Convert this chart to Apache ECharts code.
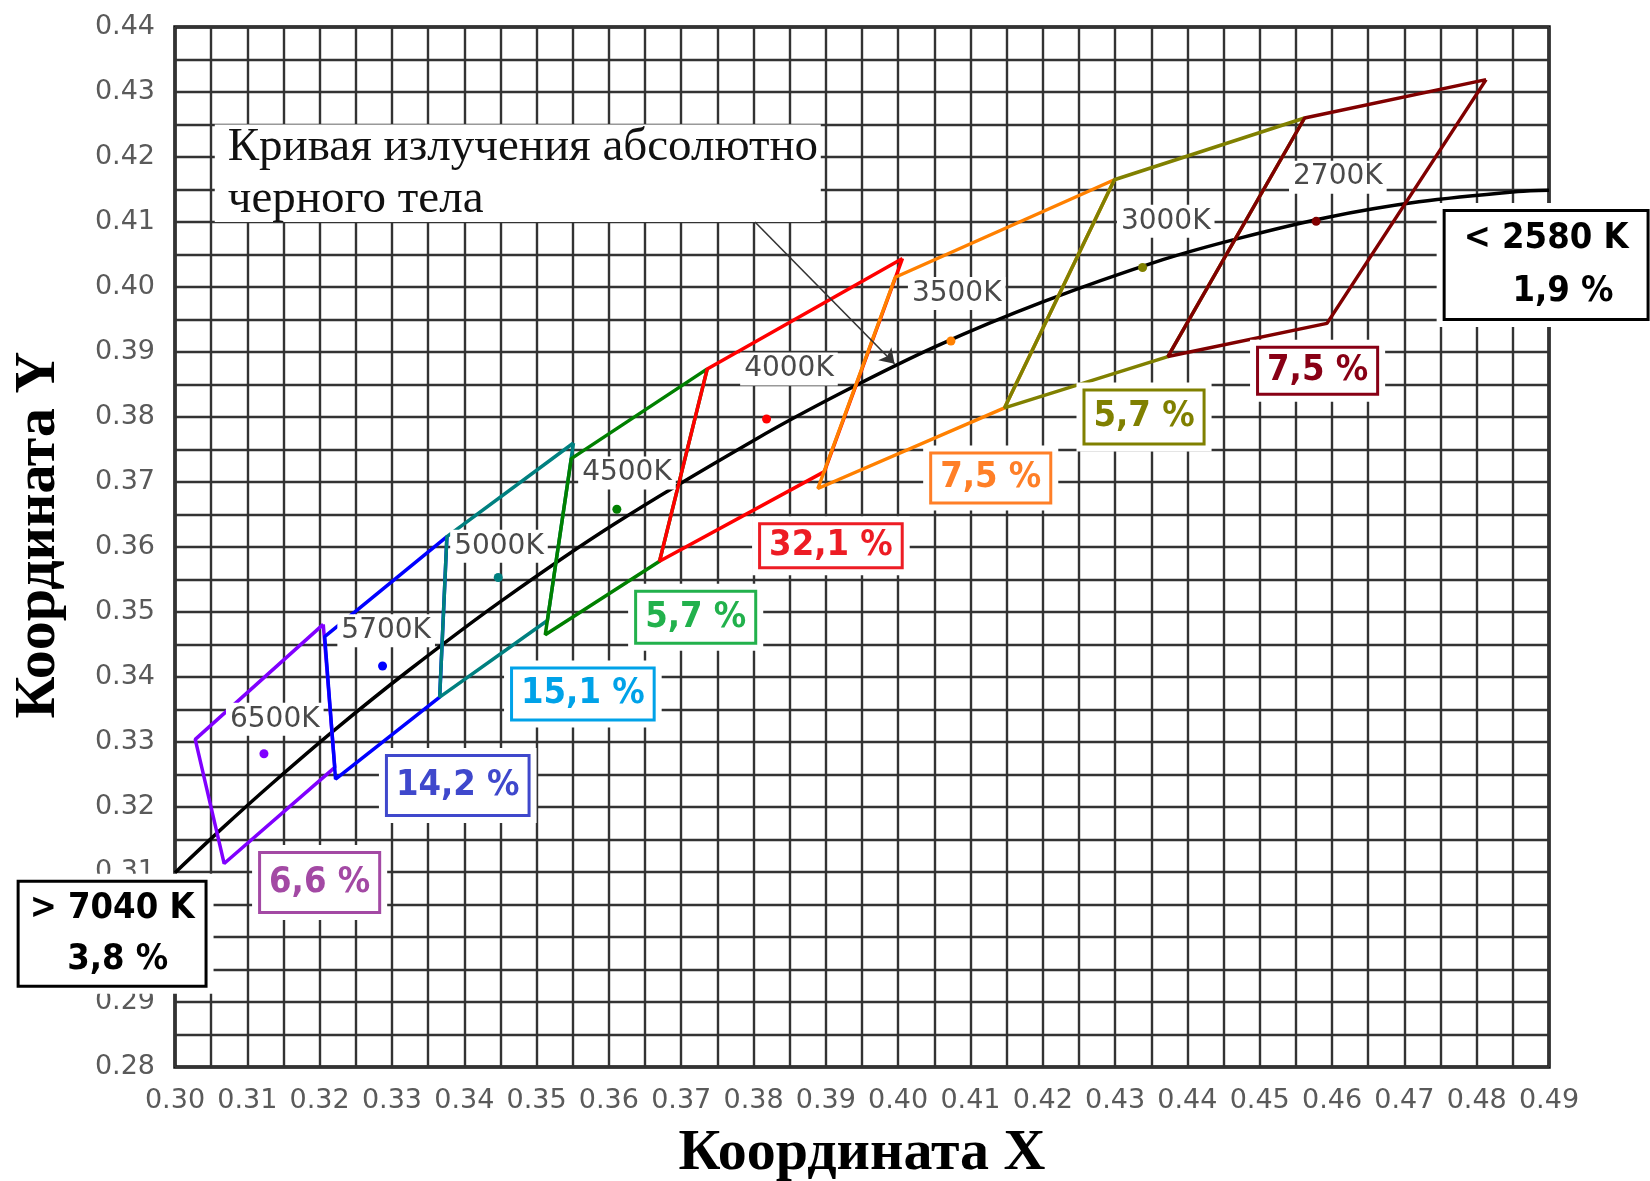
<!DOCTYPE html>
<html><head><meta charset="utf-8">
<script src="https://cdn.jsdelivr.net/npm/echarts@6/dist/echarts.min.js"></script>
<style>html,body{margin:0;padding:0;background:#fff}#c{width:1650px;height:1181px}</style>
</head><body><div id="c"></div>
<script>
// ---------- data ----------
const xRange = [0.30, 0.49];
const yRange = [0.28, 0.44];
const cctNames = ['6500K', '5700K', '5000K', '4500K', '4000K', '3500K', '3000K', '2700K'];
const centers = [
  [0.3123, 0.3282], [0.3287, 0.3417], [0.3447, 0.3553], [0.3611, 0.3658],
  [0.3818, 0.3797], [0.4073, 0.3917], [0.4338, 0.4030], [0.4578, 0.4101]
];
const quad6500 = [[0.3205, 0.3481], [0.3028, 0.3304], [0.3068, 0.3113], [0.3221, 0.3261]];
const quad5700 = [[0.3376, 0.3616], [0.3207, 0.3462], [0.3222, 0.3243], [0.3366, 0.3369]];
const quad5000 = [[0.3551, 0.3760], [0.3376, 0.3616], [0.3366, 0.3369], [0.3515, 0.3487]];
const quad4500 = [[0.3736, 0.3874], [0.3548, 0.3736], [0.3512, 0.3465], [0.3670, 0.3578]];
const quad4000 = [[0.4006, 0.4044], [0.3736, 0.3874], [0.3670, 0.3578], [0.3898, 0.3716]];
const quad3500 = [[0.4299, 0.4165], [0.3996, 0.4015], [0.3889, 0.3690], [0.4147, 0.3814]];
const quad3000 = [[0.4562, 0.4260], [0.4299, 0.4165], [0.4147, 0.3814], [0.4373, 0.3893]];
const quad2700 = [[0.4813, 0.4319], [0.4562, 0.4260], [0.4373, 0.3893], [0.4593, 0.3944]];
const quads = [quad6500, quad5700, quad5000, quad4500, quad4000, quad3500, quad3000, quad2700];
const shares = [6.6, 14.2, 15.1, 5.7, 32.1, 7.5, 5.7, 7.5];
const outsideNames = ['< 2580 K', '> 7040 K'];
const outsideShares = [1.9, 3.8];
const locusX = [0.3000, 0.3064, 0.3135, 0.3220, 0.3323, 0.3450, 0.3607, 0.3805, 0.3923, 0.4053, 0.4200, 0.4366, 0.4475, 0.4593, 0.4720, 0.4857, 0.4900];
const locusY = [0.3099, 0.3166, 0.3237, 0.3318, 0.3410, 0.3516, 0.3635, 0.3767, 0.3838, 0.3909, 0.3977, 0.4042, 0.4076, 0.4107, 0.4131, 0.4147, 0.4149];
const locusNote = 'Кривая излучения абсолютно\nчерного тела';

// ---------- layout (annotation anchors, data coords) ----------
const cctAnchors = [[0.3138, 0.3335], [0.3292, 0.3471], [0.3448, 0.3601], [0.3625, 0.3714], [0.3849, 0.3874], [0.4081, 0.3990], [0.4370, 0.4101], [0.4608, 0.4169]];
const shareAnchors = [[0.3200, 0.3084], [0.3391, 0.3233], [0.3564, 0.3374], [0.3720, 0.3492], [0.3907, 0.3602], [0.4128, 0.3706], [0.4340, 0.3800], [0.4580, 0.3871]];
const sharePadV = [[9, 8], [9, 8], [5, 4], [5, 4], [1, 0], [4, 3], [6, 5], [2, 2]];
const outsideAnchors = [[0.4896, 0.4034], [0.2913, 0.3005]];
const outsidePadH = [18, 10];
const noteArea = [[0.3055, 0.425], [0.3893, 0.41]];
const arrowCoords = [[0.3802, 0.4100], [0.3995, 0.3882]];

// ---------- styles ----------
const quadColors = ['#8000ff', '#0000ff', '#008080', '#008000', '#ff0000', '#ff8000', '#808000', '#800000'];
const shareColors = ['#a349a4', '#3f48cc', '#00a2e8', '#22b14c', '#ed1c24', '#ff7f27', '#808000', '#880015'];
const boxFont = "'DejaVu Sans Condensed', 'DejaVu Sans', sans-serif";
const gridLine = { color: '#333', width: 2.4 };
const fmt = v => v.toFixed(1).replace('.', ',');
const hidden = { color: 'rgba(0,0,0,0)', opacity: 1 };

const series = [];
// planckian locus
series.push({
  type: 'line', z: 3, symbol: 'none', smooth: 0.3, silent: true,
  data: locusX.map((x, i) => [x, locusY[i]]),
  lineStyle: { color: '#000', width: 3.5 },
  markArea: {
    silent: true,
    itemStyle: { color: '#fff', opacity: 1 },
    label: {
      show: true, position: 'insideLeft', distance: 13,
      fontFamily: "'Liberation Serif', 'Times New Roman', serif", fontSize: 47,
      color: '#111', lineHeight: 52, padding: [6, 0, 0, 0]
    },
    data: [[{ coord: noteArea[0], name: locusNote }, { coord: noteArea[1] }]]
  }
});
// quadrangles
quads.forEach((q, i) => {
  series.push({
    type: 'line', z: 4, symbol: 'none', silent: true,
    data: q.concat([q[0]]),
    lineStyle: { color: quadColors[i], width: 3.5 }
  });
});
// centre points
series.push({
  type: 'scatter', z: 5, symbolSize: 9, silent: true,
  data: centers.map((c, i) => ({ value: c, itemStyle: { color: quadColors[i], opacity: 1 } }))
});
// arrow
series.push({
  type: 'lines', coordinateSystem: 'cartesian2d', z: 6, silent: true,
  symbol: ['none', 'arrow'], symbolSize: 14,
  lineStyle: { color: '#333', width: 1.6, opacity: 1 },
  data: [{ coords: arrowCoords }]
});
const centred = { position: [0, 0], align: 'center', verticalAlign: 'middle' };
// CCT labels
series.push({
  type: 'scatter', z: 8, symbolSize: 0, silent: true,
  itemStyle: hidden,
  label: Object.assign({
    show: true, formatter: p => p.name,
    fontFamily: "'DejaVu Sans', sans-serif", fontSize: 28, color: '#4a4a4a',
    backgroundColor: '#fff', padding: [3, 4, 2, 4]
  }, centred),
  data: cctAnchors.map((a, i) => ({ value: a, name: cctNames[i] }))
});
// share boxes: white halo + bordered box
const boxItems = shareAnchors.map((a, i) => ({
  value: a, name: fmt(shares[i]) + ' %', color: shareColors[i], two: false,
  pad: [3 + sharePadV[i][0], 8, 1 + sharePadV[i][1], 8], lh: 36
})).concat(outsideAnchors.map((a, i) => ({
  value: a, name: outsideNames[i] + '\n' + (i === 0 ? '   ' : ' ') + fmt(outsideShares[i]) + ' %', color: '#000', two: true,
  pad: [0, outsidePadH[i], 0, outsidePadH[i]], lh: i === 0 ? 53 : 51
})));
const baseLabel = Object.assign({
  show: true, fontFamily: boxFont, fontWeight: 'bold', fontSize: 36,
  textBorderWidth: 0
}, centred);
series.push({
  type: 'scatter', z: 9, symbolSize: 0, silent: true, clip: false,
  itemStyle: hidden,
  data: boxItems.map(b => ({
    value: b.value, name: b.name,
    label: Object.assign({}, baseLabel, {
      formatter: b.name, color: 'rgba(0,0,0,0)', backgroundColor: '#fff',
      lineHeight: b.lh,
      padding: [b.pad[0] + 9, b.pad[1] + 9, b.pad[2] + 9, b.pad[3] + 9]
    })
  }))
});
series.push({
  type: 'scatter', z: 10, symbolSize: 0, silent: true, clip: false,
  itemStyle: hidden,
  data: boxItems.map(b => ({
    value: b.value, name: b.name,
    label: Object.assign({}, baseLabel, {
      formatter: b.name, color: b.color, backgroundColor: '#fff',
      borderColor: b.color, borderWidth: 3,
      lineHeight: b.lh, padding: b.pad
    })
  }))
});

const axisCommon = {
  type: 'value', interval: 0.01,
  axisLine: { show: false }, axisTick: { show: false },
  minorTick: { show: false, splitNumber: 2 },
  splitLine: { show: true, lineStyle: gridLine },
  minorSplitLine: { show: true, lineStyle: gridLine },
  axisLabel: {
    formatter: v => v.toFixed(2), fontFamily: "'DejaVu Sans', sans-serif",
    fontSize: 27, color: '#5a5a5a', margin: 20
  },
  nameLocation: 'middle',
  nameTextStyle: {
    fontFamily: "'Liberation Serif', 'Times New Roman', serif",
    fontWeight: 'bold', fontSize: 58, color: '#000'
  }
};

const chart = echarts.init(document.getElementById('c'));
chart.setOption({
  animation: false,
  backgroundColor: '#fff',
  grid: {
    left: 175, right: 101, top: 27, bottom: 114, containLabel: false, outerBoundsMode: 'none',
    show: true, borderColor: '#111', borderWidth: 3.5, backgroundColor: '#fff'
  },
  xAxis: Object.assign({}, axisCommon, {
    min: xRange[0], max: xRange[1], name: 'Координата X', nameGap: 58
  }),
  yAxis: Object.assign({}, axisCommon, {
    min: yRange[0], max: yRange[1], name: 'Координата Y', nameGap: 107,
    nameTextStyle: Object.assign({}, axisCommon.nameTextStyle, { padding: [0, 0, 0, 24] })
  }),
  series: series
});
</script></body></html>
